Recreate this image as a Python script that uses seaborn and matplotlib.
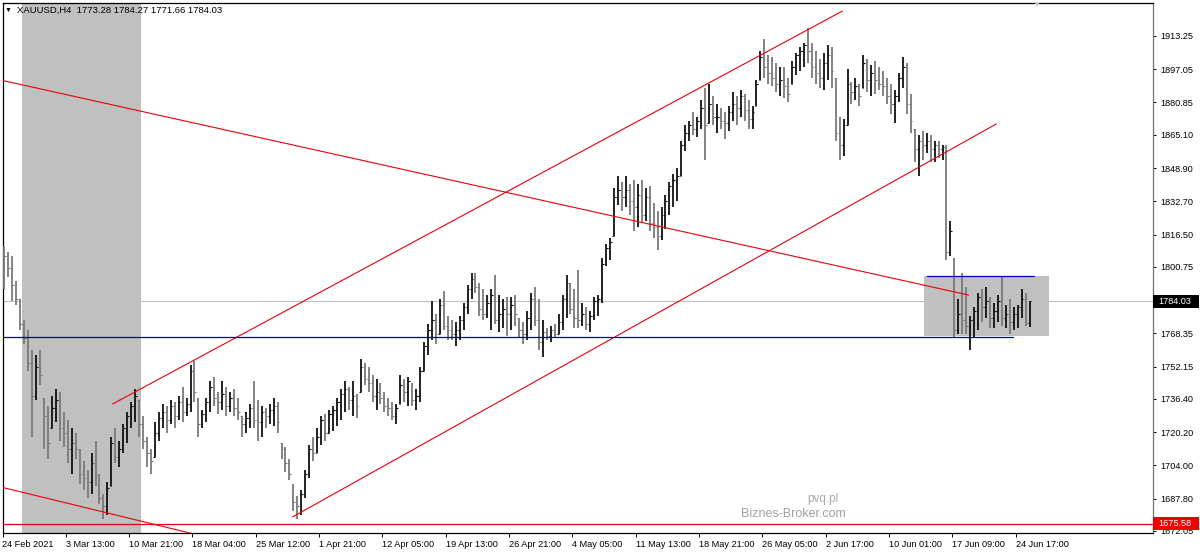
import matplotlib
matplotlib.use("Agg")
import matplotlib.pyplot as plt
import matplotlib.transforms as mtransforms
from matplotlib.patches import Rectangle
import seaborn as sns
import numpy as np

sns.set_theme(style="white")
plt.rcParams['font.family'] = ['Liberation Sans', 'DejaVu Sans']

# --- XAUUSD H4 bars (one entry per bar) ---
first_open = 1808.0

highs = [
    1811, 1808, 1806, 1794, 1785, 1775, 1770, 1760, 1758, 1760,
    1737, 1733, 1738, 1741, 1740, 1730, 1726, 1722, 1720, 1712,
    1706, 1702, 1710, 1716, 1700, 1690, 1696, 1718, 1722, 1716,
    1724, 1730, 1735, 1741, 1736, 1728, 1718, 1712, 1725, 1730,
    1734, 1733, 1736, 1735, 1738, 1742, 1737, 1753, 1755, 1737,
    1731, 1737, 1745, 1747, 1740, 1745, 1742, 1740, 1741, 1737,
    1728, 1730, 1734, 1745, 1736, 1733, 1732, 1734, 1737, 1735,
    1715, 1713, 1707, 1695, 1689, 1692, 1702, 1714, 1718, 1722,
    1728, 1729, 1731, 1733, 1737, 1741, 1745, 1742, 1745, 1739,
    1756, 1754, 1752, 1748, 1746, 1744, 1740, 1737, 1735, 1734,
    1748, 1746, 1747, 1744, 1741, 1752, 1764, 1773, 1784, 1778,
    1785, 1789, 1777, 1775, 1774, 1777, 1783, 1792, 1798, 1798,
    1793, 1790, 1787, 1790, 1797, 1787, 1785, 1786, 1786, 1787,
    1776, 1774, 1779, 1788, 1791, 1785, 1775, 1771, 1772, 1773,
    1778, 1787, 1797, 1793, 1790, 1799, 1783, 1781, 1779, 1786,
    1787, 1805, 1812, 1815, 1839, 1845, 1842, 1845, 1841, 1843,
    1841, 1843, 1839, 1840, 1832, 1828, 1830, 1836, 1842, 1846,
    1849, 1862, 1870, 1872, 1876, 1874, 1882, 1888, 1890, 1884,
    1880, 1878, 1876, 1879, 1886, 1884, 1887, 1885, 1882, 1879,
    1892, 1906, 1912, 1904, 1903, 1900, 1898, 1898, 1893, 1901,
    1905, 1908, 1910, 1917, 1910, 1906, 1902, 1905, 1909, 1908,
    1893, 1874, 1873, 1897, 1891, 1893, 1890, 1904, 1902, 1899,
    1901, 1898, 1896, 1893, 1890, 1887, 1895, 1903, 1900, 1885,
    1868, 1865, 1867, 1866, 1865, 1862, 1862, 1860, 1860, 1823,
    1805, 1785, 1798, 1791, 1777, 1781, 1788, 1790, 1791, 1786,
    1783, 1787, 1796, 1782, 1785, 1781, 1782, 1790, 1788, 1784.27,
]

lows = [
    1790, 1796, 1784, 1782, 1770, 1763, 1750, 1718, 1736, 1743,
    1712, 1707, 1722, 1725, 1716, 1713, 1705, 1700, 1707, 1695,
    1692, 1688, 1690, 1694, 1685, 1678, 1680, 1694, 1705, 1703,
    1710, 1715, 1722, 1725, 1718, 1712, 1703, 1700, 1708, 1716,
    1722, 1720, 1724, 1722, 1726, 1725, 1728, 1730, 1735, 1718,
    1722, 1725, 1730, 1733, 1729, 1731, 1728, 1730, 1728, 1726,
    1718, 1720, 1722, 1722, 1716, 1718, 1722, 1724, 1723, 1720,
    1707, 1701, 1697, 1682, 1678, 1680, 1688, 1698, 1706, 1710,
    1714, 1716, 1720, 1721, 1723, 1726, 1730, 1731, 1728, 1727,
    1740, 1743, 1740, 1735, 1731, 1734, 1730, 1728, 1726, 1724,
    1734, 1735, 1733, 1733, 1731, 1735, 1750, 1758, 1765, 1763,
    1768, 1770, 1765, 1765, 1762, 1765, 1770, 1778, 1785, 1788,
    1777, 1775, 1776, 1770, 1773, 1769, 1771, 1767, 1770, 1772,
    1766, 1763, 1765, 1770, 1772, 1760, 1757, 1765, 1764, 1766,
    1768, 1770, 1776, 1778, 1771, 1771, 1772, 1770, 1769, 1775,
    1777, 1783, 1801, 1804, 1816, 1831, 1828, 1830, 1826, 1818,
    1820, 1822, 1823, 1818, 1815, 1809, 1814, 1819, 1826, 1830,
    1833, 1845, 1857, 1862, 1865, 1864, 1868, 1853, 1871, 1870,
    1866, 1868, 1863, 1867, 1872, 1870, 1874, 1872, 1868, 1868,
    1879, 1892, 1893, 1890, 1889, 1886, 1884, 1883, 1881, 1890,
    1894, 1896, 1898, 1900, 1893, 1890, 1888, 1887, 1892, 1888,
    1862, 1853, 1855, 1870, 1880, 1882, 1879, 1888, 1886, 1884,
    1885, 1887, 1884, 1880, 1875, 1871, 1881, 1888, 1875, 1866,
    1852, 1845, 1853, 1856, 1852, 1852, 1854, 1853, 1804, 1806,
    1766, 1768, 1768, 1768, 1760, 1766, 1770, 1774, 1776, 1771,
    1771, 1774, 1772, 1771, 1768, 1770, 1771, 1776, 1772, 1771.66,
]

closes = [
    1806, 1800, 1792, 1785, 1773, 1766, 1754, 1738, 1752, 1748,
    1728, 1715, 1732, 1736, 1722, 1720, 1712, 1715, 1712, 1700,
    1698, 1696, 1705, 1700, 1688, 1684, 1693, 1715, 1708, 1712,
    1722, 1728, 1733, 1738, 1724, 1716, 1710, 1706, 1720, 1727,
    1730, 1726, 1733, 1728, 1735, 1730, 1734, 1750, 1740, 1724,
    1729, 1735, 1742, 1737, 1735, 1739, 1733, 1737, 1732, 1730,
    1724, 1727, 1732, 1726, 1725, 1730, 1728, 1731, 1733, 1725,
    1712, 1705, 1700, 1686, 1684, 1690, 1700, 1712, 1710, 1718,
    1726, 1720, 1729, 1731, 1735, 1739, 1741, 1736, 1738, 1733,
    1752, 1746, 1744, 1738, 1740, 1737, 1733, 1732, 1728, 1732,
    1743, 1740, 1745, 1736, 1738, 1750, 1762, 1770, 1775, 1768,
    1782, 1772, 1770, 1768, 1770, 1775, 1781, 1790, 1795, 1791,
    1780, 1778, 1783, 1787, 1775, 1778, 1780, 1778, 1782, 1778,
    1770, 1768, 1776, 1785, 1775, 1764, 1769, 1767, 1770, 1768,
    1774, 1785, 1793, 1780, 1776, 1775, 1778, 1773, 1777, 1784,
    1785, 1802, 1810, 1813, 1835, 1838, 1835, 1838, 1833, 1830,
    1836, 1826, 1835, 1822, 1820, 1816, 1826, 1833, 1840, 1843,
    1845, 1860, 1866, 1870, 1868, 1872, 1878, 1870, 1880, 1874,
    1874, 1872, 1871, 1876, 1880, 1878, 1884, 1877, 1873, 1876,
    1890, 1903, 1898, 1895, 1893, 1890, 1892, 1889, 1885, 1898,
    1904, 1906, 1909, 1906, 1898, 1895, 1893, 1900, 1904, 1896,
    1866, 1860, 1870, 1890, 1886, 1889, 1884, 1900, 1892, 1895,
    1892, 1890, 1889, 1884, 1880, 1884, 1893, 1898, 1880, 1872,
    1858, 1862, 1860, 1862, 1858, 1860, 1858, 1859, 1808, 1818,
    1770, 1778, 1775, 1772, 1775, 1779, 1786, 1781, 1784, 1776,
    1779, 1784, 1776, 1778, 1774, 1778, 1781, 1785, 1773.28, 1784.03,
]

x_labels = ['24 Feb 2021', '3 Mar 13:00', '10 Mar 21:00', '18 Mar 04:00',
            '25 Mar 12:00', '1 Apr 21:00', '12 Apr 05:00', '19 Apr 13:00',
            '26 Apr 21:00', '4 May 05:00', '11 May 13:00', '18 May 21:00',
            '26 May 05:00', '2 Jun 17:00', '10 Jun 01:00', '17 Jun 09:00',
            '24 Jun 17:00']
y_ticks = [1913.25, 1897.05, 1880.85, 1865.10, 1848.90, 1832.70, 1816.50,
           1800.75, 1768.35, 1752.15, 1736.40, 1720.20, 1704.00, 1687.80,
           1672.05]

# chart objects: (bar index, price)
red_trends = [((-1.0, 1891.8), (243.6, 1787.0)),
              ((27.3, 1733.9), (211.7, 1925.4)),
              ((72.8, 1678.9), (250.6, 1870.4)),
              ((-1.0, 1693.5), (49.5, 1669.8))]
blue_levels = [((-1.0, 1766.6), (254.7, 1766.6)),
               ((233.2, 1796.3), (260.0, 1796.3))]
band_bars = (4.55, 34.4)
range_box = (232.2, 263.8, 1767.0, 1796.3)
bid_price = 1784.03
red_level = 1675.58

W, H = 1200, 553
fig = plt.figure(figsize=(W / 100, H / 100), dpi=100)
fig.patch.set_facecolor('white')
ax = fig.add_axes([2.5 / W, 20 / H, 1150.5 / W, 530.5 / H])
ax.set_facecolor('white')

n = len(highs)
idx = np.arange(n)
highs = np.array(highs, dtype=float)
lows = np.array(lows, dtype=float)
closes = np.array(closes, dtype=float)
opens = np.clip(np.r_[first_open, closes[:-1]], lows, highs)
colors = np.where(closes >= opens, '#101010', '#7a7a7a')

# background objects
ax.axhline(bid_price, color='#c0c0c0', lw=0.8, zorder=0.5)
ax.axvspan(*band_bars, color='#c0c0c0', lw=0, zorder=1)
x0, x1, p0, p1 = range_box
ax.add_patch(Rectangle((x0, p0), x1 - x0, p1 - p0, fc='#c0c0c0', ec='none', zorder=1))

# OHLC bars
ax.vlines(idx, lows, highs, colors=colors, lw=1.3, zorder=4)
ax.hlines(opens, idx - 0.4, idx, colors=colors, lw=0.8, zorder=4)
ax.hlines(closes, idx, idx + 0.4, colors=colors, lw=0.8, zorder=4)

# lines
for (xa, ya), (xb, yb) in red_trends:
    ax.plot([xa, xb], [ya, yb], color='#e8000b', lw=0.8, zorder=5)
for (xa, ya), (xb, yb) in blue_levels:
    ax.plot([xa, xb], [ya, yb], color='#0000c0', lw=0.9, zorder=5)
ax.axhline(red_level, color='#e8000b', lw=0.9, zorder=5)

ax.set_xlim(-0.5, -0.5 + 1150.5 / 3.958)
ax.set_ylim(1671.06, 1929.57)

ax.set_xticks(np.arange(len(x_labels)) * 16 - 0.5)
ax.set_xticklabels(x_labels, ha='left', fontsize=6.6)
ax.tick_params(axis='x', direction='out', length=3, width=0.7, pad=2,
               colors='black', bottom=True)
ax.yaxis.tick_right()
ax.set_yticks(y_ticks)
ax.set_yticklabels([f'{v:.2f}' for v in y_ticks], fontsize=6.6)
ax.tick_params(axis='y', direction='out', length=2.5, width=0.7, pad=3,
               colors='black', right=True, left=False)

for side in ['left', 'top', 'bottom']:
    ax.spines[side].set_color('black')
    ax.spines[side].set_linewidth(0.9)
ax.spines['right'].set_color('#707070')
ax.spines['right'].set_linewidth(0.9)

# price labels on the right scale
trans = mtransforms.blended_transform_factory(ax.transAxes, ax.transData)
px_x = 1.0 / 1150.5
px_y = 0.4873
for price, face in [(bid_price, 'black'), (red_level, '#f00000')]:
    ax.add_patch(Rectangle((1.0, price - 6.5 * px_y), 46 * px_x, 13 * px_y,
                           transform=trans, fc=face, ec='none', clip_on=False, zorder=6))
    ax.text(1.0 + 5 * px_x, price, f'{price:.2f}', transform=trans, color='white',
            fontsize=6.6, ha='left', va='center', clip_on=False, zorder=7)

# header and watermark
fig.text(5 / W, 1 - 10 / H, '▼', fontsize=5, va='center', color='black')
fig.text(17 / W, 1 - 10 / H, 'XAUUSD,H4  1773.28 1784.27 1771.66 1784.03',
         fontsize=6.8, va='center', color='black')
fig.text(1036 / W, 1 - 5 / H, '▼', fontsize=6, ha='center', va='center', color='#c8c8c8')
fig.text(823 / W, 1 - 499 / H, 'pvq.pl', fontsize=8.5, ha='center', va='center', color='#a8a8a8')
fig.text(793 / W, 1 - 514 / H, 'Biznes-Broker.com', fontsize=9, ha='center', va='center',
         color='#a0a0a0')

fig.savefig('out.png', dpi=100, facecolor='white')
